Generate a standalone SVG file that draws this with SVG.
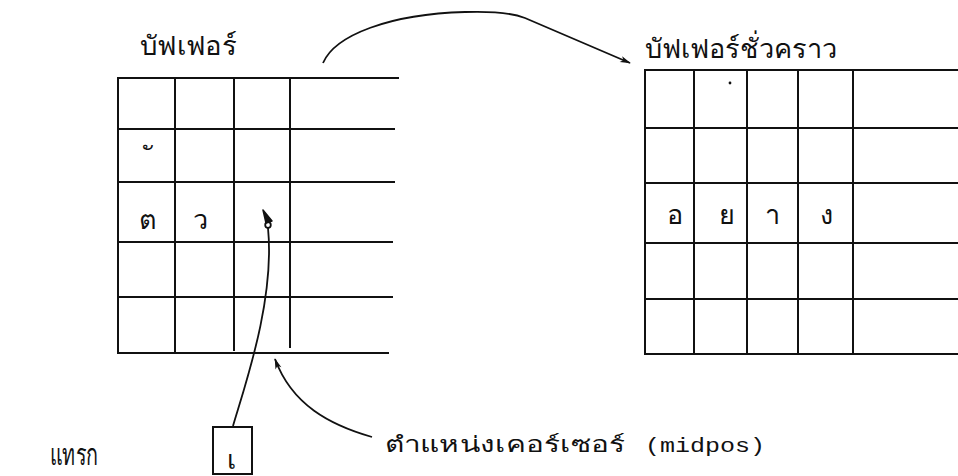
<svg xmlns="http://www.w3.org/2000/svg" width="958" height="476" viewBox="0 0 958 476">
<style>
.g{stroke:#111;stroke-width:2;fill:none;stroke-linecap:square}
.t{font-family:"Noto Sans","DejaVu Sans","Liberation Sans",sans-serif;fill:#111}
.c{font-size:27px;text-anchor:middle}
.h{font-size:27px}
.m{font-family:"Liberation Mono","DejaVu Sans Mono",monospace;font-size:21px;fill:#111}
.a{stroke:#111;stroke-width:1.8;fill:none}
</style>
<defs>
<marker id="ah" viewBox="0 0 12 10" refX="11" refY="5" markerWidth="12" markerHeight="9" orient="auto" markerUnits="userSpaceOnUse">
<path d="M0,1.5 L12,5 L0,8.5 L3,5 z" fill="#111"/>
</marker>
</defs>
<rect width="958" height="476" fill="#fff"/>
<g id="buffer">
<text class="t h" x="140" y="55" textLength="97" lengthAdjust="spacingAndGlyphs">บัฟเฟอร์</text>
<path class="g" d="M118,78 H398 M118,129 H394 M118,182 H394 M118,242 H392 M118,297 H392 M118,353 H388 M118,78 V353 M175,78 V353 M234,78 V350 M290,78 V347"/>
<text class="t c" font-size="32" x="149" y="166">&#160;ั</text>
<text class="t c" x="148" y="229">ต</text>
<text class="t c" x="200" y="229">ว</text>
</g>
<g id="temp-buffer">
<text class="t h" x="645" y="58" textLength="192" lengthAdjust="spacingAndGlyphs">บัฟเฟอร์ชั่วคราว</text>
<path class="g" d="M645,70 H958 M645,128 H958 M645,183 H958 M645,243 H958 M645,299 H958 M645,354 H958 M645,70 V354 M694,70 V354 M747,70 V354 M798,70 V354 M853,70 V354"/>
<circle cx="730" cy="83" r="1.4" fill="#111"/>
<text class="t c" x="675" y="224">อ</text>
<text class="t c" x="727" y="224">ย</text>
<text class="t c" x="772" y="224">า</text>
<text class="t c" x="826" y="224">ง</text>
</g>
<g id="insert-label">
<text class="t" font-size="30" x="50" y="465" textLength="48" lengthAdjust="spacingAndGlyphs">แทรก</text>
</g>
<g id="insert-box">
<rect class="g" x="213" y="427" width="39" height="47"/>
<text class="t c" font-size="26" x="231" y="469">เ</text>
</g>
<g id="cursor-label">
<text class="t" font-size="22" x="385" y="452" textLength="240" lengthAdjust="spacingAndGlyphs">ตำแหน่งเคอร์เซอร์</text>
<text class="m" x="645" y="452" textLength="120" lengthAdjust="spacingAndGlyphs">(midpos)</text>
</g>
<g id="connectors">
<path class="a" marker-end="url(#ah)" d="M323,63 C335,35 390,14 465,12 C495,11 512,13 525,18 L630,63"/>
<path class="a" d="M233,426 C245,385 275,300 268,228"/>
<path d="M263,210 L272,221 L266,223 Z" fill="#111" stroke="#111" stroke-width="1.5" stroke-linejoin="round"/>
<circle cx="268" cy="225" r="2.8" fill="none" stroke="#111" stroke-width="1.8"/>
<path class="a" marker-end="url(#ah)" d="M372,437 C330,425 292,405 275,359"/>
</g>
</svg>
